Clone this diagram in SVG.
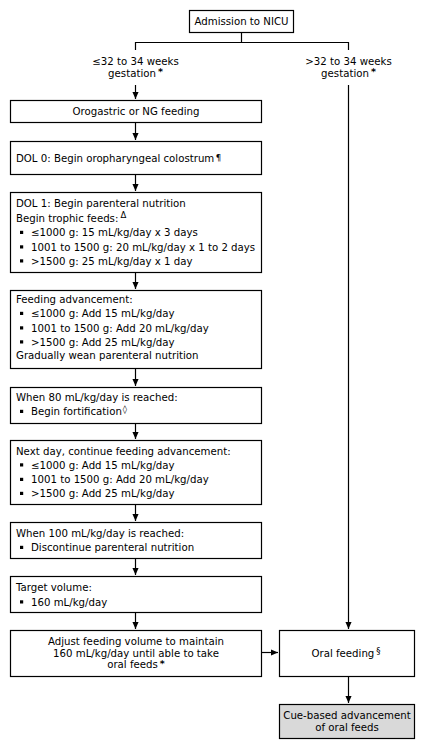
<svg xmlns="http://www.w3.org/2000/svg" width="426" height="740" viewBox="0 0 426 740">
  <style>
    .box { fill: #ffffff; stroke: #000000; stroke-width: 1.2; }
    .shade { fill: #d9d9d9; stroke: #000000; stroke-width: 1.2; }
    .ln { fill: none; stroke: #000000; stroke-width: 1.2; }
    text { font-family: "DejaVu Sans", Verdana, sans-serif; font-size: 10.2px; fill: #000000; }
    .c { text-anchor: middle; }
    .sup { font-size: 8.5px; }
    .ast { font-size: 9.5px; font-weight: bold; }
    .bul { fill: #000000; }
  </style>
  <defs>
    <marker id="ah" viewBox="0 0 8 8" refX="8" refY="4" markerWidth="7" markerHeight="7" markerUnits="userSpaceOnUse" orient="auto">
      <path d="M0,0.5 L8,4 L0,7.5 Z" fill="#000000"/>
    </marker>
    <rect id="sq" width="3.2" height="3.2" class="bul"/>
  </defs>

  <g id="connectors">
    <path class="ln" d="M241.5,32 V42.5 M135.5,50 V42.5 H348.5 V50"/>
    <path class="ln" d="M135.5,85 V99" marker-end="url(#ah)"/>
    <path class="ln" d="M135.5,122 V140" marker-end="url(#ah)"/>
    <path class="ln" d="M135.5,174 V191" marker-end="url(#ah)"/>
    <path class="ln" d="M135.5,272 V289" marker-end="url(#ah)"/>
    <path class="ln" d="M135.5,368 V386" marker-end="url(#ah)"/>
    <path class="ln" d="M135.5,423 V439" marker-end="url(#ah)"/>
    <path class="ln" d="M135.5,504 V521" marker-end="url(#ah)"/>
    <path class="ln" d="M135.5,558 V575" marker-end="url(#ah)"/>
    <path class="ln" d="M135.5,612 V629" marker-end="url(#ah)"/>
    <path class="ln" d="M348.5,85 V629" marker-end="url(#ah)"/>
    <path class="ln" d="M262,652.5 H278" marker-end="url(#ah)"/>
    <path class="ln" d="M348.5,676 V703" marker-end="url(#ah)"/>
  </g>

  <g id="admission">
    <rect class="box" x="189.5" y="10.5" width="104" height="22"/>
    <text class="c" x="241.5" y="25">Admission to NICU</text>
  </g>

  <g id="label-preterm">
    <text class="c" x="135.5" y="64.5">≤32 to 34 weeks</text>
    <text class="c" x="135.5" y="76.5">gestation<tspan class="ast" dx="2" dy="-1.5">*</tspan></text>
  </g>

  <g id="label-late-preterm">
    <text class="c" x="348.5" y="64.5">&gt;32 to 34 weeks</text>
    <text class="c" x="348.5" y="76.5">gestation<tspan class="ast" dx="2" dy="-1.5">*</tspan></text>
  </g>

  <g id="orogastric">
    <rect class="box" x="10.5" y="100.5" width="251" height="22"/>
    <text class="c" x="136" y="115">Orogastric or NG feeding</text>
  </g>

  <g id="dol0">
    <rect class="box" x="10.5" y="141.5" width="251" height="33"/>
    <text x="16" y="162">DOL 0: Begin oropharyngeal colostrum<tspan class="sup" dx="1.5" dy="-1">¶</tspan></text>
  </g>

  <g id="dol1">
    <rect class="box" x="10.5" y="192.5" width="251" height="80"/>
    <text x="16" y="207">DOL 1: Begin parenteral nutrition</text>
    <text x="16" y="222">Begin trophic feeds:<tspan class="sup" dx="2" dy="-4">Δ</tspan></text>
    <use href="#sq" x="20" y="230.8"/>
    <text x="31" y="236">≤1000 g: 15 mL/kg/day x 3 days</text>
    <use href="#sq" x="20" y="245.3"/>
    <text x="31" y="250.5">1001 to 1500 g: 20 mL/kg/day x 1 to 2 days</text>
    <use href="#sq" x="20" y="259.3"/>
    <text x="31" y="264.5">&gt;1500 g: 25 mL/kg/day x 1 day</text>
  </g>

  <g id="advancement">
    <rect class="box" x="10.5" y="290.5" width="251" height="78"/>
    <text x="16" y="303">Feeding advancement:</text>
    <use href="#sq" x="20" y="311.8"/>
    <text x="31" y="317">≤1000 g: Add 15 mL/kg/day</text>
    <use href="#sq" x="20" y="326.3"/>
    <text x="31" y="331.5">1001 to 1500 g: Add 20 mL/kg/day</text>
    <use href="#sq" x="20" y="340.3"/>
    <text x="31" y="345.5">&gt;1500 g: Add 25 mL/kg/day</text>
    <text x="16" y="359">Gradually wean parenteral nutrition</text>
  </g>

  <g id="fortification">
    <rect class="box" x="10.5" y="387.5" width="251" height="36"/>
    <text x="16" y="401">When 80 mL/kg/day is reached:</text>
    <use href="#sq" x="20" y="409.8"/>
    <text x="31" y="415">Begin fortification<tspan class="sup" dx="1" dy="-3">◊</tspan></text>
  </g>

  <g id="next-day">
    <rect class="box" x="10.5" y="440.5" width="251" height="64"/>
    <text x="16" y="455">Next day, continue feeding advancement:</text>
    <use href="#sq" x="20" y="463.3"/>
    <text x="31" y="468.5">≤1000 g: Add 15 mL/kg/day</text>
    <use href="#sq" x="20" y="477.8"/>
    <text x="31" y="483">1001 to 1500 g: Add 20 mL/kg/day</text>
    <use href="#sq" x="20" y="491.8"/>
    <text x="31" y="497">&gt;1500 g: Add 25 mL/kg/day</text>
  </g>

  <g id="discontinue-pn">
    <rect class="box" x="10.5" y="522.5" width="251" height="36"/>
    <text x="16" y="537">When 100 mL/kg/day is reached:</text>
    <use href="#sq" x="20" y="545.8"/>
    <text x="31" y="551">Discontinue parenteral nutrition</text>
  </g>

  <g id="target">
    <rect class="box" x="10.5" y="576.5" width="251" height="36"/>
    <text x="16" y="591">Target volume:</text>
    <use href="#sq" x="20" y="600.3"/>
    <text x="31" y="605.5">160 mL/kg/day</text>
  </g>

  <g id="maintain">
    <rect class="box" x="10.5" y="630.5" width="251" height="46"/>
    <text class="c" x="136" y="645">Adjust feeding volume to maintain</text>
    <text class="c" x="136" y="656.5">160 mL/kg/day until able to take</text>
    <text class="c" x="136" y="668">oral feeds<tspan class="ast" dx="2" dy="-1.5">*</tspan></text>
  </g>

  <g id="oral-feeding">
    <rect class="box" x="279.5" y="630.5" width="135" height="46"/>
    <text class="c" x="346" y="657">Oral feeding<tspan class="sup" dx="2" dy="-3">§</tspan></text>
  </g>

  <g id="cue-based">
    <rect class="shade" x="279.5" y="704.5" width="135" height="34"/>
    <text class="c" x="347" y="718.5">Cue-based advancement</text>
    <text class="c" x="347" y="730.5">of oral feeds</text>
  </g>
</svg>
